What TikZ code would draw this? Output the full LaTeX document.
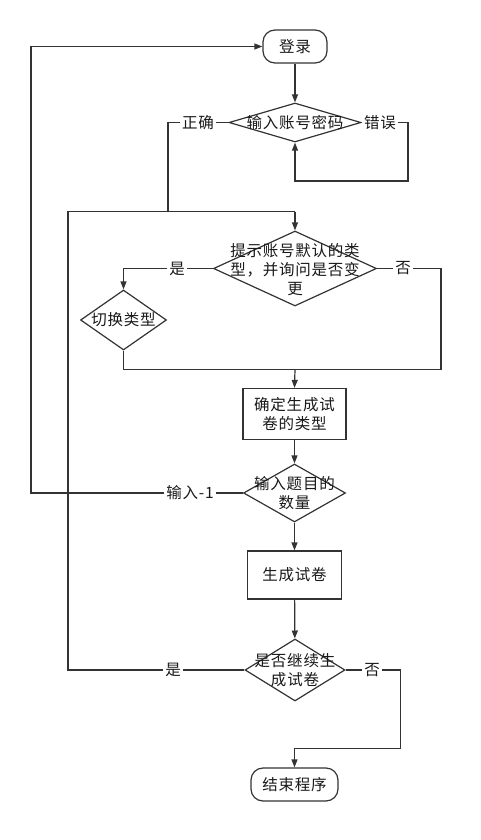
\documentclass[tikz,border=0pt]{standalone}
\usepackage{fontspec}
\newfontfamily\cjk[LetterSpace=5]{Noto Sans CJK SC}
\usetikzlibrary{shapes.geometric,arrows.meta}
\tikzset{
  every node/.style={font=\cjk\fontsize{15.5pt}{19pt}\selectfont, text=black!90},
  ln/.style={draw=black!80, line width=1.2pt},
  arr/.style={ln, -{Triangle[length=8pt,width=6pt]}},
  dia/.style={shape=diamond, draw=black!80, line width=1.2pt, inner sep=0pt, fill=white},
  txt/.style={align=center, inner sep=0pt},
  rbox/.style={draw=black!80, line width=1.2pt, rounded corners=12pt, inner sep=0pt},
  sbox/.style={draw=black!80, line width=1.2pt, inner sep=0pt, align=center},
  lab/.style={fill=white, inner sep=2pt},
}
\begin{document}
\begin{tikzpicture}[x=1pt,y=-1pt]
\useasboundingbox (0,0) rectangle (481,840);
% nodes
\node[rbox, minimum width=64pt, minimum height=33pt] (start) at (295,46.5) {登录};
\node[dia, minimum width=132pt, minimum height=39pt] (d1) at (295,122.5) {};
\node[txt] (t1) at (d1) {输入账号密码};
\node[dia, minimum width=163pt, minimum height=75pt] (d2) at (295,268.5) {};
\node[txt] (t2) at (295,269.5) {提示账号默认的类\\型，并询问是否变\\更};
\node[dia, minimum width=86pt, minimum height=60pt] (d3) at (123.5,320) {};
\node[txt] (t3) at (d3) {切换类型};
\node[sbox, minimum width=103pt, minimum height=51pt] (r1) at (294.5,414) {确定生成试\\卷的类型};
\node[dia, minimum width=102pt, minimum height=58pt] (d5) at (294.5,493) {};
\node[txt] (t5) at (d5) {输入题目的\\数量};
\node[sbox, minimum width=94pt, minimum height=48pt] (r2) at (294.5,575) {生成试卷};
\node[dia, minimum width=100pt, minimum height=62pt] (d6) at (295,670) {};
\node[txt] (t6) at (d6) {是否继续生\\成试卷};
\node[rbox, minimum width=87pt, minimum height=33pt] (end) at (294.5,784.5) {结束程序};
% junction coordinates
\coordinate (jtop) at (295,211.7);
\coordinate (jmid) at (295,369.3);
% connectors
\draw[arr] (start) -- (d1);
\draw[arr] (d1.east) -- (408,122.5) -- (408,181) -- (295,181) -- (d1.south);
\node[lab] at (380,122.5) {错误};
\draw[ln] (d1.west) -- (168,122.5) -- (168,211.7);
\node[lab] at (198,122.5) {正确};
\draw[ln] (d6.west) -- (68,670) -- (68,211.7) -- (jtop);
\draw[arr] (jtop) -- (d2.north);
\node[lab] at (173,670) {是};
\draw[arr] (d2.west) -- (123.5,268.5) -- (d3.north);
\node[lab] at (177,268.5) {是};
\draw[ln] (d2.east) -- (441,268.5) -- (441,369.3) -- (jmid);
\node[lab] at (403,268.5) {否};
\draw[ln] (d3.south) -- (123.5,369.3) -- (jmid);
\draw[arr] (jmid) -- (r1.north);
\draw[arr] (r1) -- (d5);
\draw[arr] (d5.west) -- (31,493) -- (31,46.5) -- (start.west);
\node[lab] at (190,493) {输入-1};
\draw[arr] (d5) -- (r2);
\draw[arr] (r2) -- (d6);
\draw[arr] (d6.east) -- (400.7,670) -- (400.7,748.3) -- (294.5,748.3) -- (end.north);
\node[lab] at (372,670) {否};
\end{tikzpicture}
\end{document}
